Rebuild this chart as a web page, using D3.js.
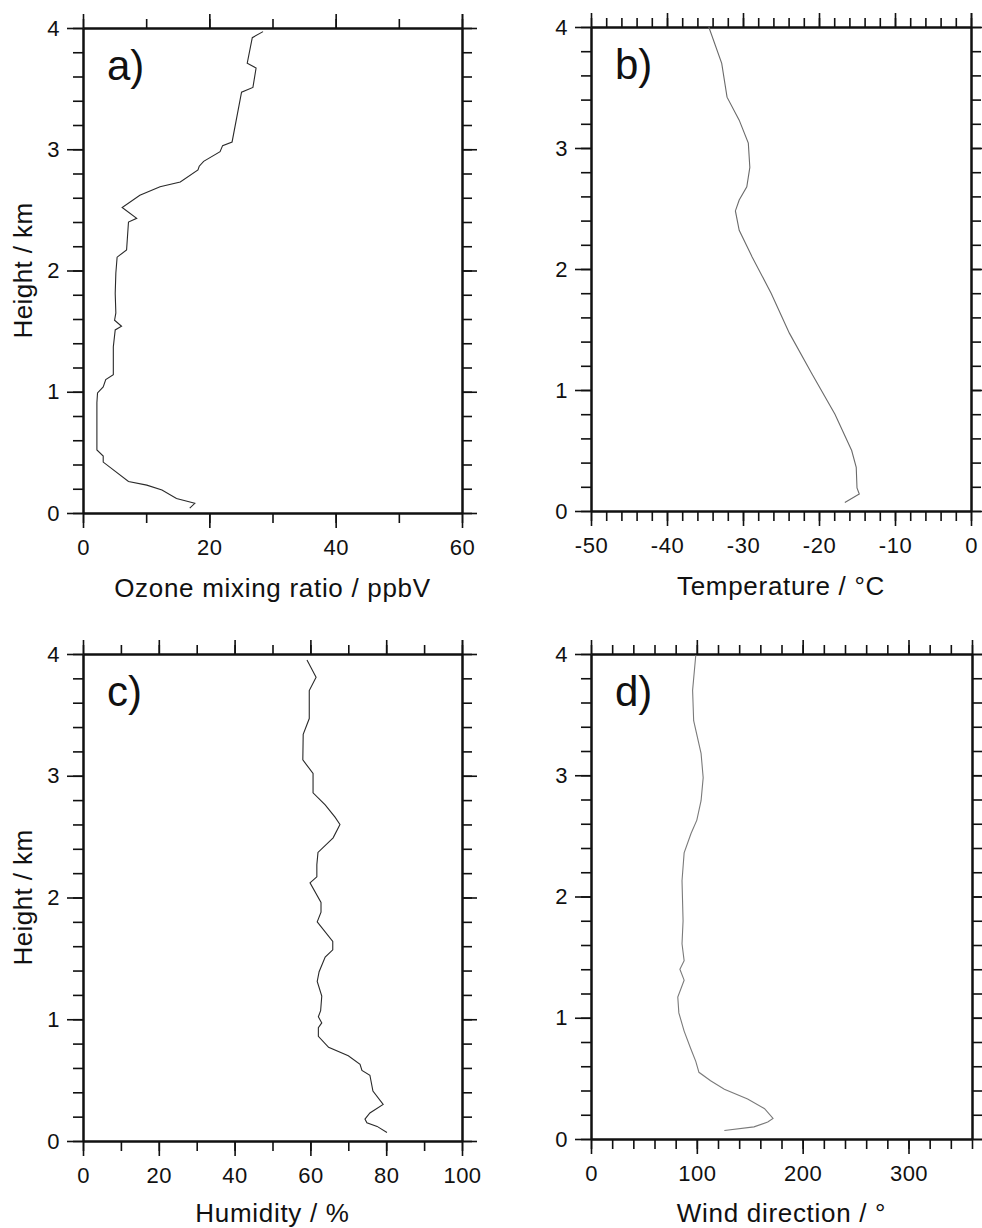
<!DOCTYPE html>
<html>
<head>
<meta charset="utf-8">
<script src="https://cdn.jsdelivr.net/npm/d3@7/dist/d3.min.js"></script>
<style>
  body { margin: 0; background: #fff; }
  text { font-family: "Liberation Sans", Arial, Helvetica, sans-serif; fill: #111; }
</style>
</head>
<body>
<div id="chart"></div>
<script>
// height (km) / value pairs
const ozoneHeight = [0.04, 0.08, 0.12, 0.19, 0.23, 0.26, 0.42, 0.47, 0.52, 0.91, 0.99, 1.04, 1.10, 1.14, 1.37, 1.51, 1.54, 1.59, 1.65, 1.81, 1.98, 2.11, 2.17, 2.40, 2.43, 2.52, 2.62, 2.69, 2.73, 2.83, 2.86, 2.90, 2.98, 3.03, 3.06, 3.47, 3.51, 3.67, 3.71, 3.92, 3.97];
const ozonePpbv   = [16.9, 17.7, 14.8, 12.5, 10.1, 7.2, 3.2, 3.2, 2.2, 2.2, 2.3, 3.2, 3.6, 4.8, 4.8, 5.1, 6.1, 5.0, 5.2, 5.1, 5.2, 5.4, 6.9, 7.2, 8.5, 6.2, 9.0, 12.2, 15.4, 18.2, 18.4, 19.1, 21.7, 22.1, 23.6, 25.1, 26.9, 27.4, 26.0, 26.8, 28.5];

const tempHeight  = [0.07, 0.14, 0.19, 0.36, 0.50, 0.80, 1.13, 1.47, 1.80, 2.10, 2.32, 2.48, 2.57, 2.68, 2.84, 3.04, 3.23, 3.42, 3.70, 4.00];
const tempC       = [-16.6, -14.7, -15.0, -15.1, -15.7, -17.9, -20.9, -23.9, -26.3, -28.8, -30.5, -31.0, -30.5, -29.5, -29.1, -29.3, -30.5, -32.1, -32.8, -34.5];

const humidityHeight = [0.07, 0.12, 0.15, 0.18, 0.23, 0.30, 0.41, 0.54, 0.58, 0.63, 0.70, 0.77, 0.86, 0.93, 0.97, 1.02, 1.07, 1.19, 1.31, 1.39, 1.51, 1.57, 1.64, 1.80, 1.88, 1.96, 2.12, 2.17, 2.27, 2.37, 2.49, 2.60, 2.66, 2.76, 2.86, 3.02, 3.13, 3.34, 3.47, 3.70, 3.81, 3.95];
const humidityPct    = [80.2, 77.6, 74.9, 74.4, 75.7, 79.2, 76.5, 75.7, 73.6, 73.1, 70.0, 64.8, 62.1, 62.1, 63.0, 62.1, 62.7, 63.0, 61.8, 62.3, 63.9, 65.9, 65.9, 61.8, 62.8, 62.8, 59.9, 61.7, 61.7, 62.0, 66.0, 67.8, 66.5, 63.9, 60.7, 60.7, 58.0, 58.1, 59.7, 59.7, 61.5, 59.1];

const windHeight = [0.07, 0.10, 0.14, 0.17, 0.25, 0.33, 0.41, 0.48, 0.55, 0.64, 0.75, 0.89, 1.04, 1.17, 1.31, 1.40, 1.47, 1.61, 1.80, 2.13, 2.36, 2.52, 2.63, 2.79, 2.98, 3.18, 3.45, 3.70, 3.99];
const windDeg    = [126, 154, 167, 172, 164, 148, 126, 113, 102, 99, 94, 88, 83, 82, 88, 84, 88, 86, 87, 86, 88, 94.5, 100, 104, 106, 104, 97, 96, 99];

// tick labels
const heightTicks   = [0, 1, 2, 3, 4];
const ozoneTicks    = [0, 20, 40, 60];
const tempTicks     = [-50, -40, -30, -20, -10, 0];
const humidityTicks = [0, 20, 40, 60, 80, 100];
const windTicks     = [0, 100, 200, 300];

const svg = d3.select('#chart').append('svg')
  .attr('width', 982).attr('height', 1228);

const panels = [
  { label: 'a)', left: 83, right: 462, top: 28, bottom: 513, domain: [0, 60], step: 10, titleGap: 84,
    h: ozoneHeight, v: ozonePpbv, ticks: ozoneTicks, title: 'Ozone mixing ratio / ppbV', yTitle: true, color: '#2a2a2a' },
  { label: 'b)', left: 591, right: 971, top: 27, bottom: 511, domain: [-50, 0], step: 2, titleGap: 84,
    h: tempHeight, v: tempC, ticks: tempTicks, title: 'Temperature / °C', yTitle: false, color: '#6a6a6a' },
  { label: 'c)', left: 83, right: 462, top: 654, bottom: 1141, domain: [0, 100], step: 10, titleGap: 81,
    h: humidityHeight, v: humidityPct, ticks: humidityTicks, title: 'Humidity / %', yTitle: true, color: '#2a2a2a' },
  { label: 'd)', left: 591, right: 972, top: 654, bottom: 1139, domain: [0, 360], step: 20, titleGap: 83,
    h: windHeight, v: windDeg, ticks: windTicks, title: 'Wind direction / °', yTitle: false, color: '#7a7a7a' }
];

function styleAxis(g) {
  g.select('.domain').attr('stroke', '#111').attr('stroke-width', 2);
  g.selectAll('.tick line').attr('stroke', '#111').attr('stroke-width', 1.6);
  g.selectAll('.tick text').style('font-size', '22px').style('letter-spacing', '0.5px').attr('fill', '#111');
}

panels.forEach(p => {
  const x = d3.scaleLinear().domain(p.domain).range([p.left, p.right]);
  const y = d3.scaleLinear().domain([0, 4]).range([p.bottom, p.top]);
  const minorX = d3.range(p.domain[0], p.domain[1] + 1e-6, p.step);
  const minorY = d3.range(0, 4.0001, 0.2);
  const fmt = d => String(d);

  // bottom axis
  svg.append('g').attr('transform', `translate(0,${p.bottom})`)
    .call(d3.axisBottom(x).tickValues(minorX).tickSize(10).tickSizeOuter(0).tickFormat(''))
    .call(styleAxis);
  svg.append('g').attr('transform', `translate(0,${p.bottom})`)
    .call(d3.axisBottom(x).tickValues(p.ticks).tickSize(15).tickSizeOuter(0).tickPadding(11).tickFormat(fmt))
    .call(styleAxis);

  // top axis
  svg.append('g').attr('transform', `translate(0,${p.top})`)
    .call(d3.axisTop(x).tickValues(minorX).tickSize(9).tickSizeOuter(0).tickFormat(''))
    .call(styleAxis);
  svg.append('g').attr('transform', `translate(0,${p.top})`)
    .call(d3.axisTop(x).tickValues(p.ticks.concat([p.domain[1]])).tickSize(14).tickSizeOuter(0).tickFormat(''))
    .call(styleAxis);

  // left axis
  svg.append('g').attr('transform', `translate(${p.left},0)`)
    .call(d3.axisLeft(y).tickValues(minorY).tickSize(10).tickSizeOuter(0).tickFormat(''))
    .call(styleAxis);
  svg.append('g').attr('transform', `translate(${p.left},0)`)
    .call(d3.axisLeft(y).tickValues(heightTicks).tickSize(16).tickSizeOuter(0).tickPadding(7).tickFormat(fmt))
    .call(styleAxis);

  // right axis
  svg.append('g').attr('transform', `translate(${p.right},0)`)
    .call(d3.axisRight(y).tickValues(minorY).tickSize(10).tickSizeOuter(0).tickFormat(''))
    .call(styleAxis);
  svg.append('g').attr('transform', `translate(${p.right},0)`)
    .call(d3.axisRight(y).tickValues(heightTicks).tickSize(15).tickSizeOuter(0).tickFormat(''))
    .call(styleAxis);

  // profile
  const line = d3.line().x(d => x(d[1])).y(d => y(d[0]));
  svg.append('path')
    .datum(d3.zip(p.h, p.v))
    .attr('d', line)
    .attr('fill', 'none')
    .attr('stroke', p.color)
    .attr('stroke-width', 1.1);

  // panel letter
  svg.append('text')
    .attr('x', p.left + 24).attr('y', p.top + 52)
    .style('font-size', '42px')
    .text(p.label);

  // x title
  svg.append('text')
    .attr('x', (p.left + p.right) / 2).attr('y', p.bottom + p.titleGap)
    .attr('text-anchor', 'middle')
    .style('font-size', '26px').style('letter-spacing', '0.7px')
    .text(p.title);

  if (p.yTitle) {
    svg.append('text')
      .attr('transform', `translate(32,${(p.top + p.bottom) / 2}) rotate(-90)`)
      .attr('text-anchor', 'middle')
      .style('font-size', '26px').style('letter-spacing', '0.4px')
      .text('Height / km');
  }
});
</script>
</body>
</html>
